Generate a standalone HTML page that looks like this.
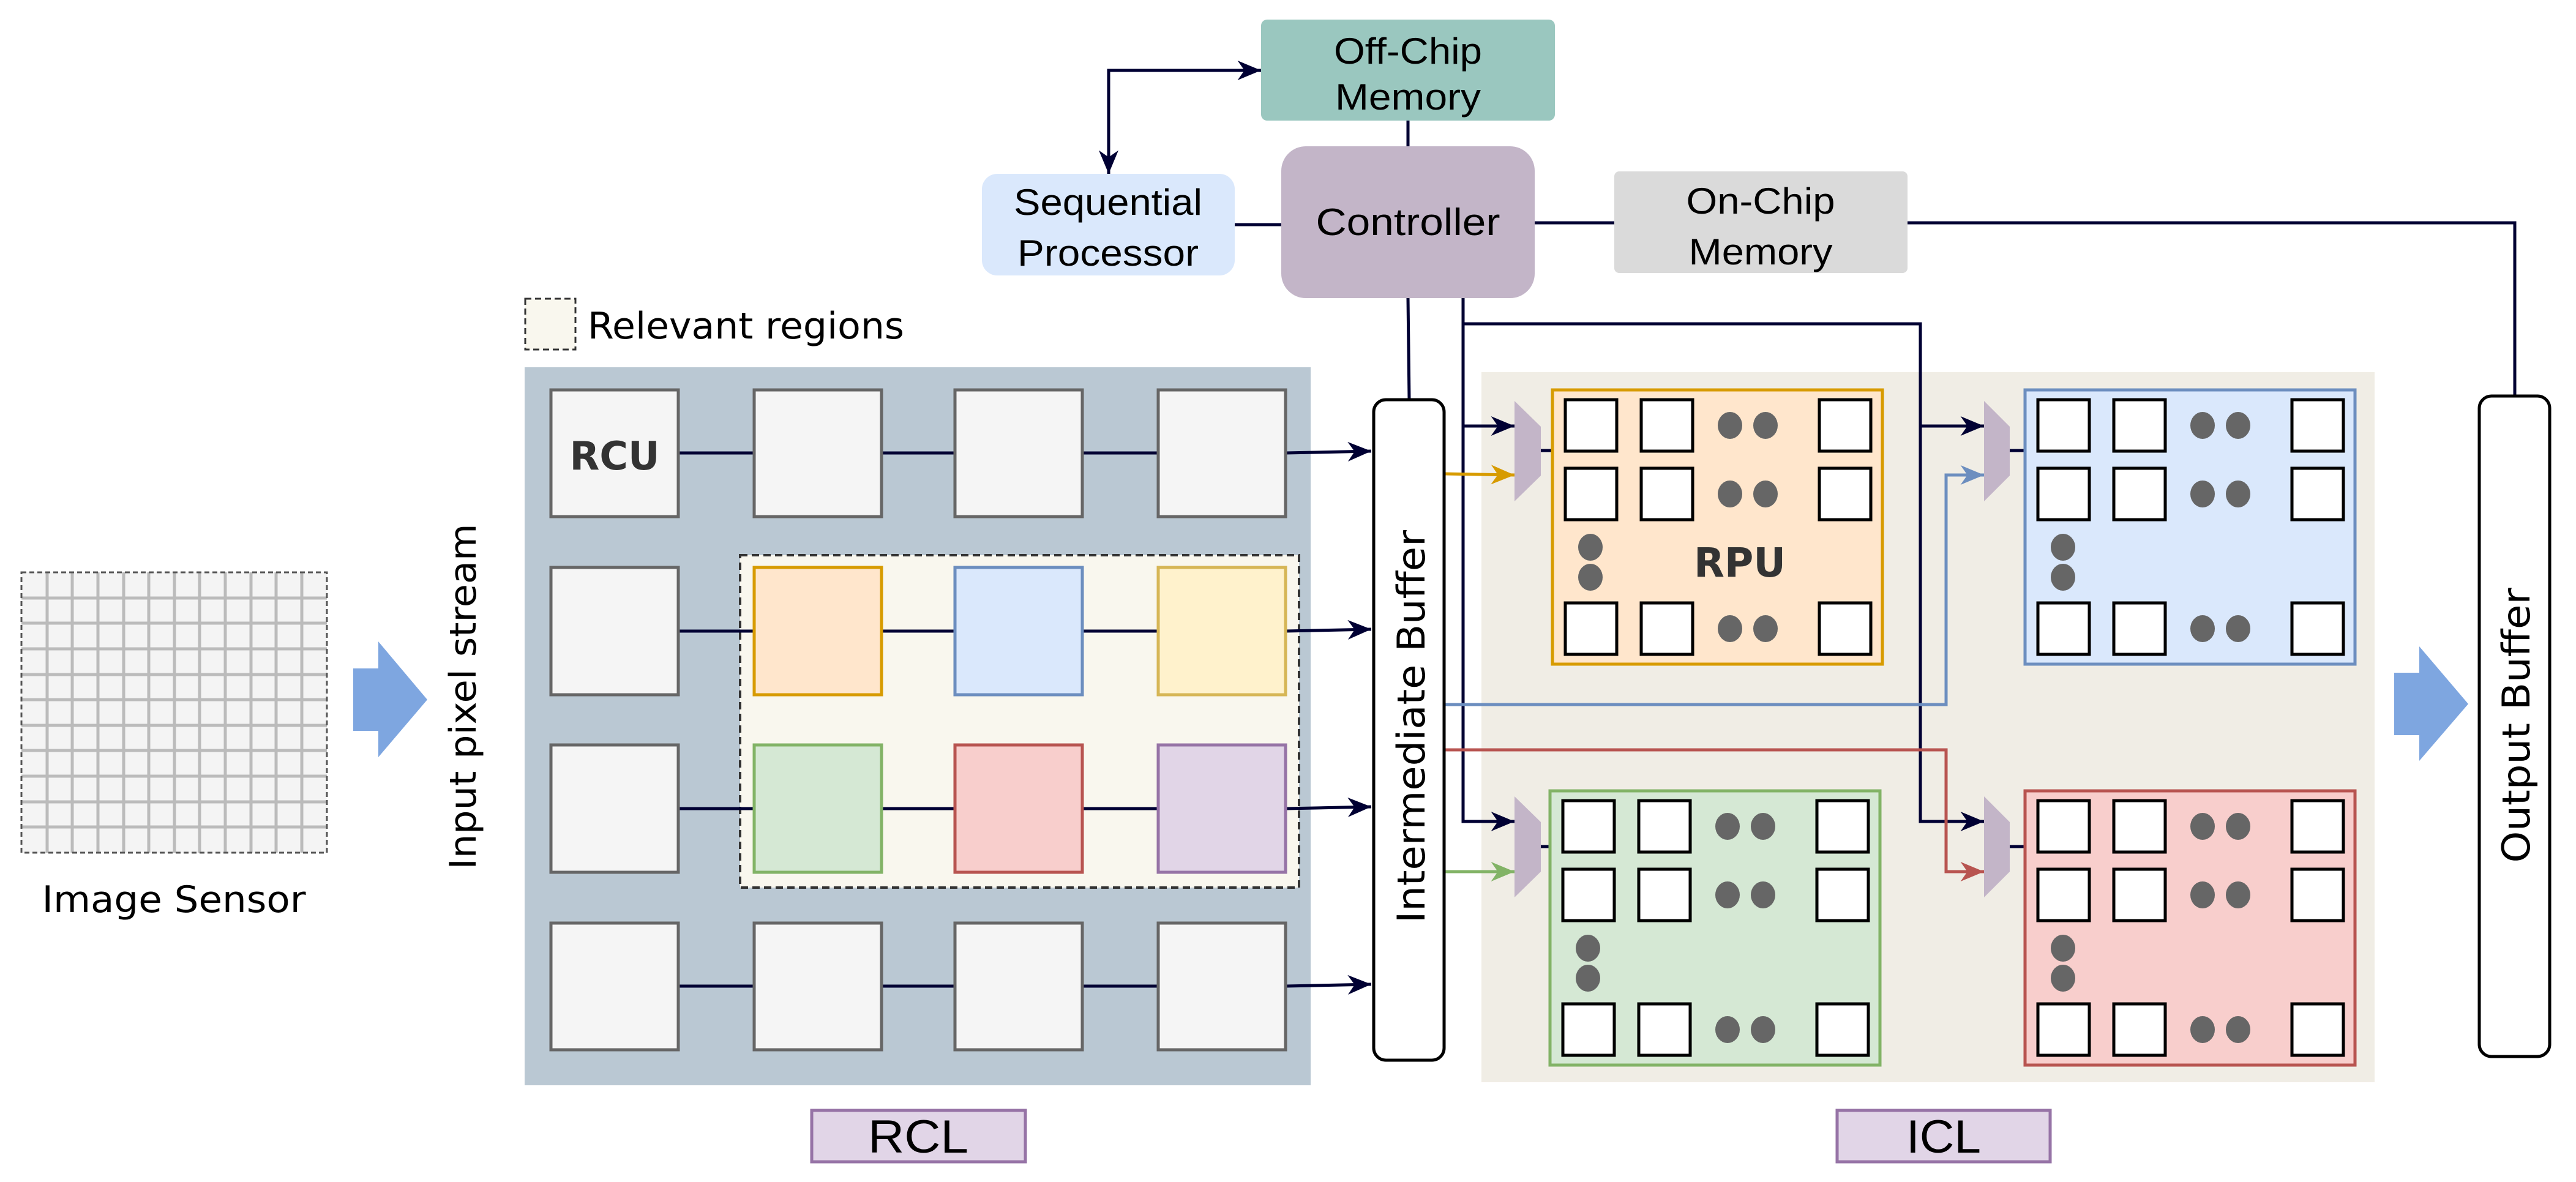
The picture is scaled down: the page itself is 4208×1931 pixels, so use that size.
<!DOCTYPE html>
<html><head><meta charset="utf-8"><style>html,body{margin:0;padding:0;background:#fff}svg{display:block}</style></head>
<body>
<svg width="4208" height="1931" viewBox="0 0 4208 1931" xmlns="http://www.w3.org/2000/svg">
<defs>
<marker id="an" viewBox="0 0 12 10" refX="12" refY="5" markerWidth="40" markerHeight="32" markerUnits="userSpaceOnUse" orient="auto-start-reverse"><path d="M0,0 L12,5 L0,10 L3.5,5 z" fill="#000033"/></marker>
<marker id="ao" viewBox="0 0 12 10" refX="12" refY="5" markerWidth="40" markerHeight="32" markerUnits="userSpaceOnUse" orient="auto"><path d="M0,0 L12,5 L0,10 L3.5,5 z" fill="#d79b00"/></marker>
<marker id="ab" viewBox="0 0 12 10" refX="12" refY="5" markerWidth="40" markerHeight="32" markerUnits="userSpaceOnUse" orient="auto"><path d="M0,0 L12,5 L0,10 L3.5,5 z" fill="#6c8ebf"/></marker>
<marker id="ar" viewBox="0 0 12 10" refX="12" refY="5" markerWidth="40" markerHeight="32" markerUnits="userSpaceOnUse" orient="auto"><path d="M0,0 L12,5 L0,10 L3.5,5 z" fill="#b85450"/></marker>
<marker id="ag" viewBox="0 0 12 10" refX="12" refY="5" markerWidth="40" markerHeight="32" markerUnits="userSpaceOnUse" orient="auto"><path d="M0,0 L12,5 L0,10 L3.5,5 z" fill="#82b366"/></marker>
<g id="cells">
<g fill="#fff" stroke="#000" stroke-width="5">
<rect x="21" y="16" width="84" height="84"/><rect x="145" y="16" width="84" height="84"/><rect x="436" y="16" width="84" height="84"/>
<rect x="21" y="128" width="84" height="84"/><rect x="145" y="128" width="84" height="84"/><rect x="436" y="128" width="84" height="84"/>
<rect x="21" y="348" width="84" height="84"/><rect x="145" y="348" width="84" height="84"/><rect x="436" y="348" width="84" height="84"/>
</g>
<g fill="#666">
<ellipse cx="290" cy="58" rx="20" ry="22"/><ellipse cx="348" cy="58" rx="20" ry="22"/>
<ellipse cx="290" cy="170" rx="20" ry="22"/><ellipse cx="348" cy="170" rx="20" ry="22"/>
<ellipse cx="290" cy="390" rx="20" ry="22"/><ellipse cx="348" cy="390" rx="20" ry="22"/>
<ellipse cx="62" cy="257" rx="20" ry="22"/><ellipse cx="62" cy="306" rx="20" ry="22"/>
</g>
</g>
</defs>

<!-- Image sensor -->
<g>
<rect x="35" y="935" width="499" height="458" fill="#f4f4f4"/>
<g stroke="#bbbbbb" stroke-width="5">
<path d="M77,935V1393M118,935V1393M160,935V1393M202,935V1393M243,935V1393M285,935V1393M326,935V1393M368,935V1393M410,935V1393M451,935V1393M493,935V1393"/>
<path d="M35,977H534M35,1018H534M35,1060H534M35,1102H534M35,1143H534M35,1185H534M35,1226H534M35,1268H534M35,1310H534M35,1351H534"/>
</g>
<rect x="35" y="935" width="499" height="458" fill="none" stroke="#555" stroke-width="3" stroke-dasharray="8,5"/>
</g>
<text x="284" y="1490" font-family="DejaVu Sans, sans-serif" font-size="60" text-anchor="middle" textLength="431" lengthAdjust="spacingAndGlyphs">Image Sensor</text>

<!-- left blue arrow -->
<polygon points="577,1092 618,1092 618,1048 698,1143 618,1237 618,1194 577,1194" fill="#7ea6e0"/>
<text transform="translate(756,1138) rotate(-90)" font-family="DejaVu Sans, sans-serif" font-size="60" text-anchor="middle" dy="21" textLength="565" lengthAdjust="spacingAndGlyphs">Input pixel stream</text>

<!-- legend -->
<rect x="858" y="488" width="82" height="83" fill="#f9f7ee" stroke="#333" stroke-width="3" stroke-dasharray="10,6"/>
<text x="960" y="553" font-family="DejaVu Sans, sans-serif" font-size="60" textLength="517" lengthAdjust="spacingAndGlyphs">Relevant regions</text>

<!-- RCL -->
<rect x="857" y="600" width="1284" height="1173" fill="#bac8d3"/>
<rect x="1209" y="907" width="913" height="543" fill="#f9f7ee" stroke="#333" stroke-width="4" stroke-dasharray="12,7"/>
<g stroke="#000033" stroke-width="5" fill="none">
<path d="M1108,740H1232M1440,740H1560M1768,740H1892"/>
<path d="M1108,1031H1232M1440,1031H1560M1768,1031H1892"/>
<path d="M1108,1321H1232M1440,1321H1560M1768,1321H1892"/>
<path d="M1108,1611H1232M1440,1611H1560M1768,1611H1892"/>
<path d="M2100,740L2240,737" marker-end="url(#an)"/>
<path d="M2100,1031L2240,1028" marker-end="url(#an)"/>
<path d="M2100,1321L2240,1318" marker-end="url(#an)"/>
<path d="M2100,1611L2240,1608" marker-end="url(#an)"/>
</g>
<g stroke="#666" stroke-width="5">
<rect x="900" y="637" width="208" height="207" fill="#f5f5f5"/>
<rect x="1232" y="637" width="208" height="207" fill="#f5f5f5"/>
<rect x="1560" y="637" width="208" height="207" fill="#f5f5f5"/>
<rect x="1892" y="637" width="208" height="207" fill="#f5f5f5"/>
<rect x="900" y="927" width="208" height="208" fill="#f5f5f5"/>
<rect x="900" y="1217" width="208" height="208" fill="#f5f5f5"/>
<rect x="900" y="1508" width="208" height="207" fill="#f5f5f5"/>
<rect x="1232" y="1508" width="208" height="207" fill="#f5f5f5"/>
<rect x="1560" y="1508" width="208" height="207" fill="#f5f5f5"/>
<rect x="1892" y="1508" width="208" height="207" fill="#f5f5f5"/>
</g>
<g stroke-width="5">
<rect x="1232" y="927" width="208" height="208" fill="#ffe6cc" stroke="#d79b00"/>
<rect x="1560" y="927" width="208" height="208" fill="#dae8fc" stroke="#6c8ebf"/>
<rect x="1892" y="927" width="208" height="208" fill="#fff2cc" stroke="#d6b656"/>
<rect x="1232" y="1217" width="208" height="208" fill="#d5e8d4" stroke="#82b366"/>
<rect x="1560" y="1217" width="208" height="208" fill="#f8cecc" stroke="#b85450"/>
<rect x="1892" y="1217" width="208" height="208" fill="#e1d5e7" stroke="#9673a6"/>
</g>
<text x="1004" y="767" font-family="DejaVu Sans, sans-serif" font-weight="bold" font-size="64" fill="#333" text-anchor="middle" textLength="147" lengthAdjust="spacingAndGlyphs">RCU</text>

<!-- RCL label -->
<rect x="1326" y="1814" width="349" height="84" fill="#e1d5e7" stroke="#9673a6" stroke-width="5"/>
<text x="1500" y="1883" font-family="Liberation Sans, sans-serif" font-size="76" text-anchor="middle" textLength="164" lengthAdjust="spacingAndGlyphs">RCL</text>

<!-- ICL bg -->
<rect x="2420" y="608" width="1459" height="1160" fill="#f0ede5"/>

<!-- top blocks -->
<rect x="2060" y="32" width="480" height="165" rx="10" fill="#9ac7bf"/>
<text font-family="Liberation Sans, sans-serif" font-size="60" text-anchor="middle"><tspan x="2300" y="104" textLength="242" lengthAdjust="spacingAndGlyphs">Off-Chip</tspan><tspan x="2300" y="179" textLength="238" lengthAdjust="spacingAndGlyphs">Memory</tspan></text>
<rect x="2093" y="239" width="414" height="248" rx="40" fill="#c3b5c8"/>
<text x="2300" y="384" font-family="Liberation Sans, sans-serif" font-size="62" text-anchor="middle" textLength="301" lengthAdjust="spacingAndGlyphs">Controller</text>
<rect x="1604" y="284" width="413" height="166" rx="25" fill="#dae8fc"/>
<text font-family="Liberation Sans, sans-serif" font-size="60" text-anchor="middle"><tspan x="1810" y="351" textLength="308" lengthAdjust="spacingAndGlyphs">Sequential</tspan><tspan x="1810" y="434" textLength="296" lengthAdjust="spacingAndGlyphs">Processor</tspan></text>
<rect x="2637" y="280" width="479" height="166" rx="8" fill="#dadada"/>
<text font-family="Liberation Sans, sans-serif" font-size="60" text-anchor="middle"><tspan x="2876" y="349" textLength="243" lengthAdjust="spacingAndGlyphs">On-Chip</tspan><tspan x="2876" y="432" textLength="235" lengthAdjust="spacingAndGlyphs">Memory</tspan></text>

<!-- connectors -->
<g stroke="#000033" stroke-width="5" fill="none">
<path d="M1811,284V115H2060" marker-start="url(#an)" marker-end="url(#an)"/>
<path d="M2300,197V239"/>
<path d="M2017,367H2093"/>
<path d="M2507,364H2637"/>
<path d="M3116,364H4108V647"/>
<path d="M2300,487L2302,653"/>
<path d="M2390,487V1342H2474" marker-end="url(#an)"/>
<path d="M2390,696H2474" marker-end="url(#an)"/>
<path d="M2390,529H3137V1342H3241" marker-end="url(#an)"/>
<path d="M3137,696H3241" marker-end="url(#an)"/>
<path d="M2517,736H2536M3283,736H3308M2517,1383H2532M3283,1383H3308"/>
</g>
<g stroke-width="5" fill="none">
<path d="M2359,774L2474,776" stroke="#d79b00" marker-end="url(#ao)"/>
<path d="M2359,1151H3179V776H3241" stroke="#6c8ebf" marker-end="url(#ab)"/>
<path d="M2359,1225H3179V1424H3241" stroke="#b85450" marker-end="url(#ar)"/>
<path d="M2359,1424H2474" stroke="#82b366" marker-end="url(#ag)"/>
</g>

<!-- muxes -->
<g fill="#c3b5c8">
<polygon points="2474,655 2517,697 2517,777 2474,819"/>
<polygon points="3241,655 3283,697 3283,777 3241,819"/>
<polygon points="2474,1301 2517,1343 2517,1424 2474,1466"/>
<polygon points="3241,1301 3283,1343 3283,1424 3241,1466"/>
</g>

<!-- RPUs -->
<rect x="2536" y="637" width="539" height="448" fill="#ffe6cc" stroke="#d79b00" stroke-width="5"/>
<use href="#cells" transform="translate(2536,637)"/>
<rect x="3308" y="637" width="539" height="448" fill="#dae8fc" stroke="#6c8ebf" stroke-width="5"/>
<use href="#cells" transform="translate(3308,637)"/>
<rect x="2532" y="1292" width="539" height="448" fill="#d5e8d4" stroke="#82b366" stroke-width="5"/>
<use href="#cells" transform="translate(2532,1292)"/>
<rect x="3308" y="1292" width="539" height="448" fill="#f8cecc" stroke="#b85450" stroke-width="5"/>
<use href="#cells" transform="translate(3308,1292)"/>
<text x="2842" y="942" font-family="DejaVu Sans, sans-serif" font-weight="bold" font-size="66" fill="#333" text-anchor="middle" textLength="150" lengthAdjust="spacingAndGlyphs">RPU</text>

<!-- buffers -->
<rect x="2244" y="653" width="115" height="1079" rx="20" fill="#fff" stroke="#000" stroke-width="5"/>
<text transform="translate(2305,1187) rotate(-90)" font-family="DejaVu Sans, sans-serif" font-size="62" text-anchor="middle" dy="22" textLength="642" lengthAdjust="spacingAndGlyphs">Intermediate Buffer</text>
<rect x="4050" y="647" width="115" height="1079" rx="20" fill="#fff" stroke="#000" stroke-width="5"/>
<text transform="translate(4110,1185) rotate(-90)" font-family="DejaVu Sans, sans-serif" font-size="62" text-anchor="middle" dy="22" textLength="449" lengthAdjust="spacingAndGlyphs">Output Buffer</text>

<!-- right blue arrow -->
<polygon points="3911,1099 3952,1099 3952,1056 4032,1150 3952,1243 3952,1201 3911,1201" fill="#7ea6e0"/>

<!-- ICL label -->
<rect x="3001" y="1814" width="348" height="84" fill="#e1d5e7" stroke="#9673a6" stroke-width="5"/>
<text x="3175" y="1883" font-family="Liberation Sans, sans-serif" font-size="76" text-anchor="middle" textLength="122" lengthAdjust="spacingAndGlyphs">ICL</text>
</svg>
</body></html>
